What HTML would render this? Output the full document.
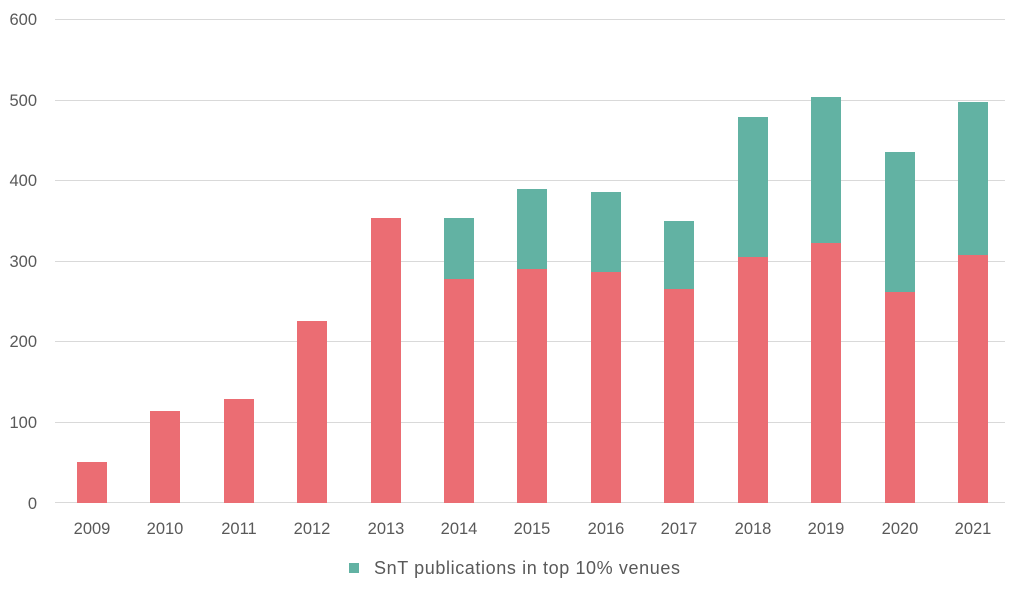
<!DOCTYPE html>
<html><head><meta charset="utf-8"><style>
body{margin:0;background:#fff;}
svg text{font-family:"Liberation Sans",sans-serif;fill:#595959;font-size:16.5px;}
</style></head><body>
<svg width="1024" height="593" xmlns="http://www.w3.org/2000/svg">
<g stroke="#d9d9d9" stroke-width="1">
<line x1="55" x2="1005" y1="19.5" y2="19.5"/>
<line x1="55" x2="1005" y1="100.5" y2="100.5"/>
<line x1="55" x2="1005" y1="180.5" y2="180.5"/>
<line x1="55" x2="1005" y1="261.5" y2="261.5"/>
<line x1="55" x2="1005" y1="341.5" y2="341.5"/>
<line x1="55" x2="1005" y1="422.5" y2="422.5"/>
<line x1="55" x2="1005" y1="502.5" y2="502.5"/>
</g>
<g text-anchor="end">
<text x="37" y="25">600</text><text x="37" y="106">500</text><text x="37" y="186">400</text>
<text x="37" y="267">300</text><text x="37" y="347">200</text><text x="37" y="428">100</text><text x="37" y="509">0</text>
</g>
<g fill="#EB6D73">
<rect x="77" y="462" width="30" height="41"/>
<rect x="150" y="411" width="30" height="92"/>
<rect x="224" y="399" width="30" height="104"/>
<rect x="297" y="321" width="30" height="182"/>
<rect x="371" y="218" width="30" height="285"/>
<rect x="444" y="279" width="30" height="224"/>
<rect x="517" y="269" width="30" height="234"/>
<rect x="591" y="272" width="30" height="231"/>
<rect x="664" y="289" width="30" height="214"/>
<rect x="738" y="257" width="30" height="246"/>
<rect x="811" y="243" width="30" height="260"/>
<rect x="885" y="292" width="30" height="211"/>
<rect x="958" y="255" width="30" height="248"/>
</g>
<g fill="#62B2A3">
<rect x="444" y="218" width="30" height="61"/>
<rect x="517" y="189" width="30" height="80"/>
<rect x="591" y="192" width="30" height="80"/>
<rect x="664" y="221" width="30" height="68"/>
<rect x="738" y="117" width="30" height="140"/>
<rect x="811" y="97" width="30" height="146"/>
<rect x="885" y="152" width="30" height="140"/>
<rect x="958" y="102" width="30" height="153"/>
</g>
<g text-anchor="middle">
<text x="92" y="534">2009</text><text x="165" y="534">2010</text><text x="239" y="534">2011</text>
<text x="312" y="534">2012</text><text x="386" y="534">2013</text><text x="459" y="534">2014</text>
<text x="532" y="534">2015</text><text x="606" y="534">2016</text><text x="679" y="534">2017</text>
<text x="753" y="534">2018</text><text x="826" y="534">2019</text><text x="900" y="534">2020</text>
<text x="973" y="534">2021</text>
</g>
<rect x="349" y="563" width="10" height="10" fill="#62B2A3"/>
<text x="374" y="574" style="font-size:18px" textLength="306" lengthAdjust="spacing">SnT publications in top 10% venues</text>
</svg>
</body></html>
